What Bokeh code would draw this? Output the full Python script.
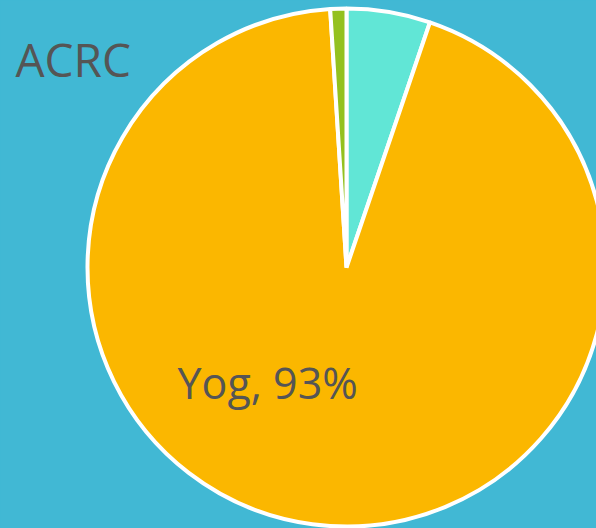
from bokeh.plotting import figure
from bokeh.models import Range1d, GlobalInlineStyleSheet
from bokeh.core.properties import value
from bokeh.embed import file_html
from bokeh.resources import INLINE
import math

labels = ["Cyan", "Yog", "Green"]
values = [5.2, 93.4, 1.0]
colors = ["#61E6D6", "#FBB700", "#94C11F"]
title_text = "ACRC"

W, H = 596, 528
BG = "#41B8D4"

p = figure(width=W, height=H, output_backend="svg", toolbar_location=None,
           x_range=Range1d(0, W), y_range=Range1d(0, H), min_border=0)
p.axis.visible = False
p.grid.visible = False
p.outline_line_color = None
p.background_fill_color = BG
p.border_fill_color = BG

total = sum(values)
starts, ends = [], []
a = math.pi / 2
for v in values:
    starts.append(a)
    a -= v / total * 2 * math.pi
    ends.append(a)

cx, cy, r = 346, H - 267, 259
p.wedge(x=[cx] * 3, y=[cy] * 3, radius=r, start_angle=starts, end_angle=ends,
        direction="clock", fill_color=colors, line_color="white", line_width=4)

big = values.index(max(values))
p.text(x=[177], y=[H - 382], text=[f"{labels[big]}, {round(values[big])}%"],
       text_font=value("Open Sans"), text_font_size="43px", text_color="#555555",
       text_baseline="alphabetic", text_align="left")
p.text(x=[15], y=[H - 58], text=[title_text],
       text_font=value("Open Sans"), text_font_size="46px", text_color="#555555",
       text_baseline="alphabetic", text_align="left")

p.stylesheets = [GlobalInlineStyleSheet(css=f"html, body {{ margin: 0; padding: 0; overflow: hidden; background: {BG}; }}")]

open("out.html", "w").write(file_html(p, INLINE))
